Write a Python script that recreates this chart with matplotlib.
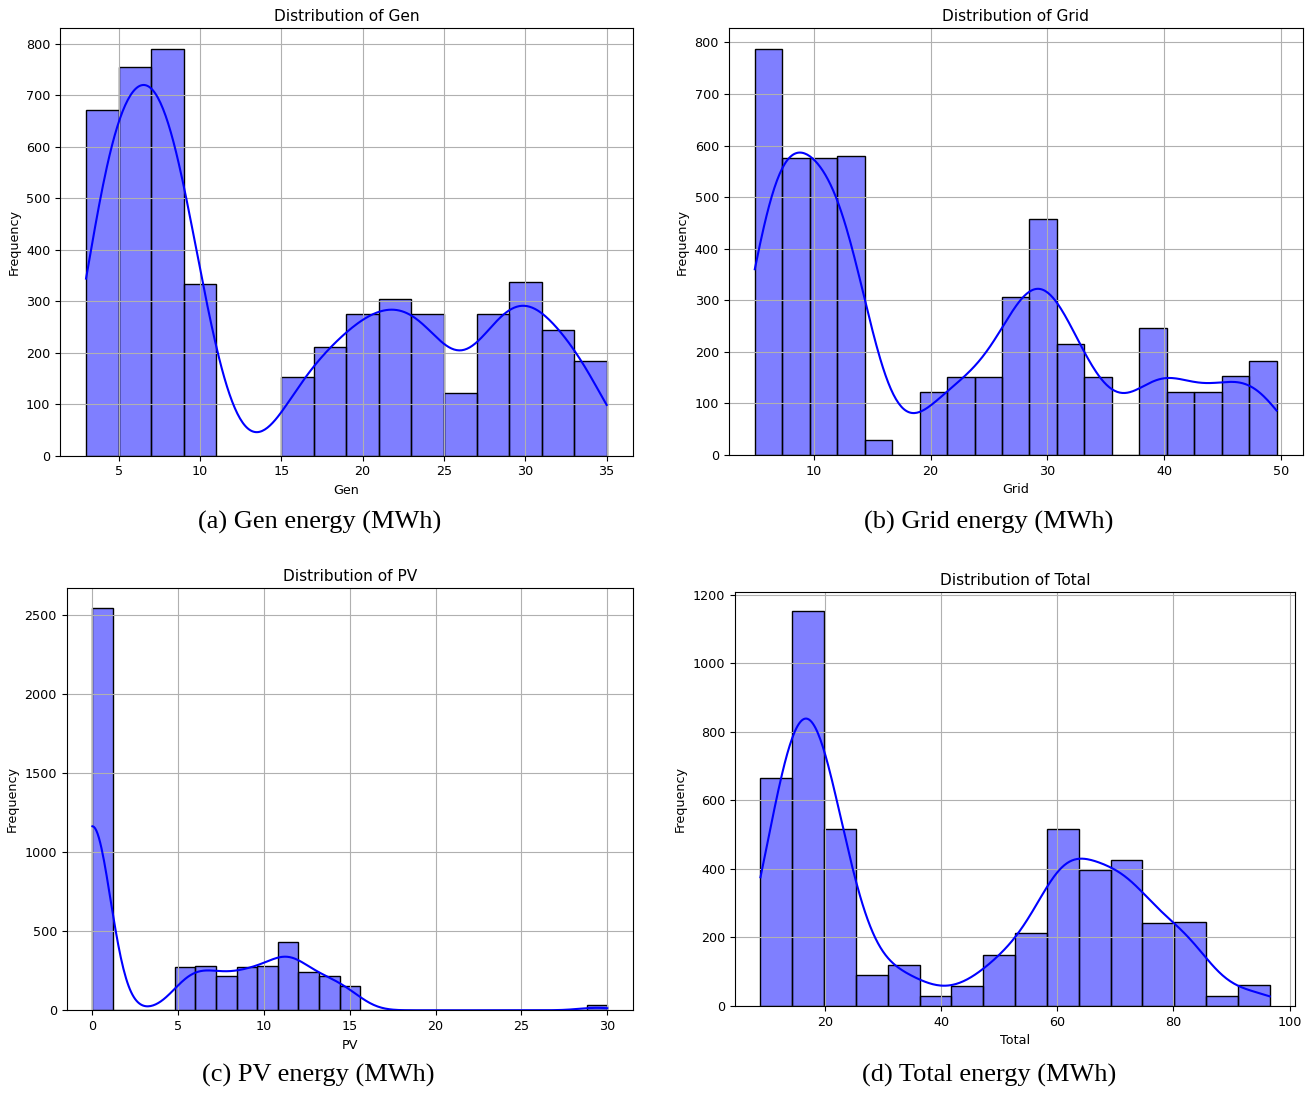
import numpy as np
import matplotlib
matplotlib.use("Agg")
import matplotlib.pyplot as plt

# ---- data (histogram bin edges and counts) ----
gen_edges = np.linspace(3, 35, 17)
gen_counts = [671, 756, 791, 333, 0, 0, 153, 211, 276, 304, 276, 122, 276, 337, 245, 184]

grid_edges = np.linspace(4.96, 49.6, 20)
grid_counts = [788, 576, 576, 580, 30, 0, 122, 152, 152, 306, 457, 215, 152, 0, 246, 122, 122, 154, 183]

pv_edges = np.linspace(0, 30, 26)
pv_counts = [2540, 0, 0, 0, 273, 277, 214, 273, 277, 433, 242, 214, 155,
             0, 0, 0, 0, 0, 0, 0, 0, 0, 0, 0, 34]
pv_first_bin_value = 0.0   # the first PV bin holds night-time zeros

total_edges = np.linspace(8.9, 96.6, 17)
total_counts = [665, 1152, 516, 91, 121, 29, 58, 150, 214, 516, 398, 426, 243, 245, 29, 60]

names = ["Gen", "Grid", "PV", "Total"]
captions = ["(a) Gen energy (MWh)", "(b) Grid energy (MWh)",
            "(c) PV energy (MWh)", "(d) Total energy (MWh)"]
edges_list = [gen_edges, grid_edges, pv_edges, total_edges]
counts_list = [gen_counts, grid_counts, pv_counts, total_counts]
bw_adjusts = [0.9, 1.0, 1.0, 0.94]


def kde_curve(points, counts, edges, bw_adjust, npts=400):
    """Gaussian KDE (Scott's rule) of the grouped data, scaled to counts."""
    n = counts.sum()
    mean = np.sum(counts * points) / n
    std = np.sqrt(np.sum(counts * (points - mean) ** 2) / n)
    bw = bw_adjust * std * n ** -0.2
    xs = np.linspace(edges[0], edges[-1], npts)
    dens = np.zeros_like(xs)
    for c, w in zip(points, counts):
        dens += w * np.exp(-0.5 * ((xs - c) / bw) ** 2)
    dens /= (n * bw * np.sqrt(2 * np.pi))
    binw = edges[1] - edges[0]
    return xs, dens * n * binw


W, H = 1312, 1093
fig = plt.figure(figsize=(W / 100, H / 100), dpi=100)

# axes boxes in pixels: left, right, top, bottom
boxes = [(60, 632.7, 28.3, 455.7),
         (728.7, 1302.7, 28.3, 455.0),
         (66.7, 633.0, 588.3, 1010.3),
         (735.0, 1295.3, 591.7, 1006.0)]
cap_pos = [(320, 522), (989, 522), (318, 1075), (989, 1075)]

FS = 9.2
for name, cap, edges, counts, bwa, box, cp in zip(names, captions, edges_list, counts_list,
                                                  bw_adjusts, boxes, cap_pos):
    l, r, t, b = box
    ax = fig.add_axes([l / W, 1 - b / H, (r - l) / W, (b - t) / H])
    edges = np.asarray(edges, dtype=float)
    counts = np.asarray(counts, dtype=float)
    centers = (edges[:-1] + edges[1:]) / 2
    ax.hist(centers, bins=edges, weights=counts, facecolor=(0, 0, 1, 0.5),
            edgecolor="black", linewidth=1.0)
    points = centers.copy()
    if name == "PV":
        points[0] = pv_first_bin_value
    xs, ys = kde_curve(points, counts, edges, bwa)
    ax.plot(xs, ys, color="blue", linewidth=1.5)
    ax.set_title(f"Distribution of {name}", fontsize=11.1, pad=5)
    ax.set_xlabel(name, fontsize=FS)
    ax.set_ylabel("Frequency", fontsize=FS)
    ax.tick_params(labelsize=FS)
    ax.grid(True)
    fig.text(cp[0] / W, 1 - cp[1] / H, cap, ha="center", va="center",
             fontsize=19, family="Liberation Serif")

fig.savefig("out.png", dpi=100)
